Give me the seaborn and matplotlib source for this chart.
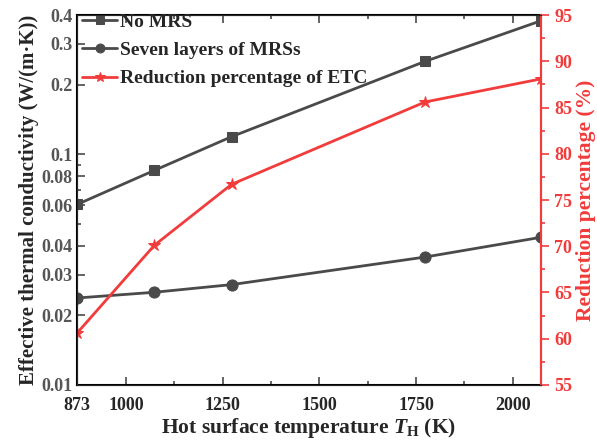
import numpy as np
import pandas as pd
import matplotlib
matplotlib.use("Agg")
import matplotlib.pyplot as plt
from matplotlib.ticker import FixedLocator, NullFormatter
import seaborn as sns

# data
temps = [873, 1073, 1273, 1773, 2073]
etc_no_mrs = [0.0605, 0.0850, 0.119, 0.252, 0.378]
etc_seven_mrs = [0.0238, 0.0252, 0.0272, 0.0358, 0.0436]
reduction_pct = [60.6, 70.1, 76.7, 85.6, 88.1]

left_ticks = [0.01, 0.02, 0.03, 0.04, 0.06, 0.08, 0.1, 0.2, 0.3, 0.4]
left_tick_labels = ["0.01", "0.02", "0.03", "0.04", "0.06", "0.08", "0.1", "0.2", "0.3", "0.4"]
left_minor = [0.05, 0.07, 0.09]
x_ticks = [873, 1000, 1250, 1500, 1750, 2000]
x_minor = [1125, 1375, 1625, 1875]
right_ticks = [55, 60, 65, 70, 75, 80, 85, 90, 95]

GRAY = "#4a4a4a"
RED = "#f23b3b"

sns.set_style("ticks")
plt.rcParams["font.family"] = ["Liberation Serif", "DejaVu Serif"]
plt.rcParams["font.weight"] = "bold"
plt.rcParams["mathtext.fontset"] = "custom"
plt.rcParams["mathtext.it"] = "Liberation Serif:italic:bold"
plt.rcParams["mathtext.rm"] = "Liberation Serif:bold"
plt.rcParams["mathtext.bf"] = "Liberation Serif:bold"

df = pd.DataFrame({"T": temps, "no": etc_no_mrs, "seven": etc_seven_mrs, "red": reduction_pct})

fig = plt.figure(figsize=(5.97, 4.45), dpi=100)
ax = fig.add_axes([0.129, 0.135, 0.777, 0.831])

sns.lineplot(data=df, x="T", y="no", ax=ax, color=GRAY, marker="s", markersize=7,
             linewidth=2, markeredgecolor=GRAY, label="No MRS")
sns.lineplot(data=df, x="T", y="seven", ax=ax, color=GRAY, marker="o", markersize=8,
             linewidth=2, markeredgecolor=GRAY, label="Seven layers of MRSs")

ax.set_yscale("log")
ax.set_ylim(0.01, 0.4)
ax.set_xlim(873, 2073)
ax.yaxis.set_major_locator(FixedLocator(left_ticks))
ax.set_yticklabels(left_tick_labels)
ax.yaxis.set_minor_locator(FixedLocator(left_minor))
ax.yaxis.set_minor_formatter(NullFormatter())
ax.set_xticks(x_ticks)
ax.set_xticklabels([str(t) for t in x_ticks])
ax.xaxis.set_minor_locator(FixedLocator(x_minor))
ax.tick_params(axis="both", which="major", direction="in", length=6, width=1.2,
               top=True, right=True, labelsize=13, color=GRAY)
ax.tick_params(axis="both", which="minor", direction="in", length=3, width=1.2,
               top=True, right=True, color=GRAY)
ax.tick_params(axis="y", labelcolor="#555555", pad=3)
ax.tick_params(axis="x", pad=9)
for lab in ax.get_xticklabels() + ax.get_yticklabels():
    lab.set_fontweight("bold")
for s in ax.spines.values():
    s.set_linewidth(1.5)
    s.set_color("black")

ax.set_xlabel(r"Hot surface temperature $T_\mathregular{H}$ (K)", fontsize=15.5,
              fontweight="bold", labelpad=1)
ax.set_ylabel("Effective thermal conductivity (W/(m·K))", fontsize=15,
              fontweight="bold", labelpad=2)

ax2 = ax.twinx()
sns.lineplot(data=df, x="T", y="red", ax=ax2, color=RED, marker="*", markersize=9,
             linewidth=2, markeredgecolor=RED, label="Reduction percentage of ETC")
ax2.set_ylim(55, 95)
ax2.set_yticks(right_ticks)
ax2.yaxis.set_minor_locator(FixedLocator(np.arange(57.5, 95, 5)))
ax2.tick_params(axis="y", which="major", direction="out", length=6, width=1.2,
                colors=RED, labelsize=13)
ax2.tick_params(axis="y", which="minor", direction="out", length=3, width=1.2, colors=RED)
for lab in ax2.get_yticklabels():
    lab.set_fontweight("bold")
ax2.spines["right"].set_color(RED)
ax2.spines["right"].set_linewidth(1.5)
ax2.set_ylabel("Reduction percentage (%)", fontsize=15.5, fontweight="bold", color=RED,
               labelpad=3)

h1, l1 = ax.get_legend_handles_labels()
h2, l2 = ax2.get_legend_handles_labels()
ax.get_legend().remove()
ax2.get_legend().remove()
leg = ax.legend(h1 + h2, l1 + l2, loc="upper left", bbox_to_anchor=(0.003, 1.016),
                frameon=False, handlelength=1.8, handletextpad=0.15, labelspacing=0.55,
                borderaxespad=0.0, borderpad=0.2, markerscale=0.8,
                prop={"weight": "bold", "size": 14})

fig.savefig("out.png", dpi=100)
